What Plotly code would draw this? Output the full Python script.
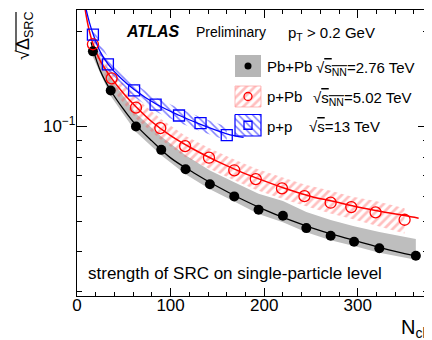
import plotly.graph_objects as go

# ---------------- data ----------------
# Pb+Pb sqrt(sNN)=2.76 TeV
pbpb_n = [17, 36, 63, 90, 116, 142, 168, 194, 220, 245, 271, 296, 323, 362]
pbpb_val = [0.173, 0.130, 0.100, 0.0843, 0.0732, 0.0656, 0.0600, 0.0544, 0.0521,
            0.0476, 0.0450, 0.0431, 0.0411, 0.0389]
pbpb_sys_hi = [0.185, 0.142, 0.110, 0.093, 0.081, 0.0725, 0.0665, 0.0612, 0.0580,
               0.0535, 0.0505, 0.0483, 0.0463, 0.0440]
pbpb_sys_lo = [0.166, 0.125, 0.096, 0.081, 0.0705, 0.0632, 0.0578, 0.0528, 0.0497,
               0.0462, 0.0436, 0.0418, 0.0398, 0.0378]
pbpb_fit_n = [15, 17, 25, 36, 50, 63, 80, 100, 125, 150, 175, 200, 225, 250, 275,
              300, 325, 350, 365]
pbpb_fit_val = [0.185, 0.176, 0.150, 0.130, 0.113, 0.101, 0.090, 0.0795, 0.0712,
                0.0645, 0.0590, 0.0545, 0.0508, 0.0478, 0.0453, 0.0432, 0.0412,
                0.0395, 0.0388]

# p+Pb sqrt(sNN)=5.02 TeV
ppb_n = [17, 37, 63, 89, 115.5, 141, 168, 191, 219, 243, 271, 293, 319, 350]
ppb_val = [0.1822, 0.1421, 0.1147, 0.0988, 0.0866, 0.0796, 0.0726, 0.0681, 0.0636,
           0.0601, 0.0573, 0.0555, 0.0534, 0.0506]
ppb_sys_hi = [0.192, 0.150, 0.123, 0.106, 0.0935, 0.0855, 0.0785, 0.0735, 0.0690,
              0.0655, 0.0625, 0.0600, 0.0580, 0.0550]
ppb_sys_lo = [0.170, 0.132, 0.106, 0.091, 0.080, 0.0735, 0.0675, 0.0630, 0.0590,
              0.0560, 0.0530, 0.0510, 0.0485, 0.0458]
ppb_fit_n = [8, 12, 17, 25, 37, 50, 63, 80, 100, 125, 150, 175, 200, 225, 250, 275,
             300, 325, 350, 365]
ppb_fit_val = [0.242, 0.208, 0.183, 0.161, 0.142, 0.127, 0.1155, 0.1035, 0.0935,
               0.0845, 0.0775, 0.0718, 0.0672, 0.0632, 0.0600, 0.0578, 0.0555,
               0.0537, 0.0522, 0.0512]

# p+p sqrt(s)=13 TeV
pp_n = [17, 33, 61, 84, 109, 132, 160]
pp_val = [0.1955, 0.1574, 0.1302, 0.1172, 0.1083, 0.1025, 0.0938]
pp_sys_hi = [0.206, 0.166, 0.137, 0.1235, 0.1142, 0.1070, 0.0998]
pp_sys_lo = [0.186, 0.150, 0.124, 0.1115, 0.1030, 0.0965, 0.0902]
pp_fit_n = [9, 13, 17, 25, 33, 45, 61, 84, 109, 132, 160, 178]
pp_fit_val = [0.240, 0.215, 0.197, 0.172, 0.158, 0.144, 0.131, 0.118, 0.1085,
              0.1015, 0.0948, 0.0923]

x_ticks = [0, 100, 200, 300]
y_ticks = [0.1]
y_tick_text = ["10<sup>\u22121</sup>"]
y_minor = [0.03, 0.04, 0.05, 0.06, 0.07, 0.08, 0.09, 0.2]

FONT = "Liberation Sans, Arial, Helvetica, sans-serif"
GRAY = "rgb(190,190,190)"
RED = "rgb(255,0,0)"
RED_HATCH = "rgba(255,85,85,0.75)"
BLUE = "rgb(0,0,255)"

# page body has an 8px margin: the figure is drawn 8px in from the window edge
PAGE_OFF = 8
W, H = 432 - PAGE_OFF, 340 - PAGE_OFF
# plot frame in window pixels: x 77..428, y 10..296
ML, MR, MT, MB = 77 - PAGE_OFF, 4, 10 - PAGE_OFF, 44
PX0, PX1, PY0, PY1 = 77, 428, 10, 296

fig = go.Figure()


def band(n, hi, lo):
    return list(n) + list(n)[::-1], list(hi) + list(lo)[::-1]


# bands
bx, by = band(pbpb_n, pbpb_sys_hi, pbpb_sys_lo)
fig.add_trace(go.Scatter(x=bx, y=by, fill="toself", fillcolor=GRAY, mode="none",
                         showlegend=False, hoverinfo="skip"))
bx, by = band(ppb_n, ppb_sys_hi, ppb_sys_lo)
fig.add_trace(go.Scatter(x=bx, y=by, fill="toself", fillcolor="rgba(0,0,0,0)",
                         fillpattern=dict(shape="/", fgcolor=RED_HATCH, bgcolor="rgba(0,0,0,0)",
                                          size=6, solidity=0.45),
                         mode="none", showlegend=False, hoverinfo="skip"))
bx, by = band(pp_n, pp_sys_hi, pp_sys_lo)
fig.add_trace(go.Scatter(x=bx, y=by, fill="toself", fillcolor="rgba(0,0,0,0)",
                         fillpattern=dict(shape="\\", fgcolor=BLUE, bgcolor="rgba(0,0,0,0)",
                                          size=5, solidity=0.3),
                         mode="none", showlegend=False, hoverinfo="skip"))

# fit lines
fig.add_trace(go.Scatter(x=pbpb_fit_n, y=pbpb_fit_val, mode="lines", line_shape="spline",
                         line=dict(color="black", width=1.3), showlegend=False))
fig.add_trace(go.Scatter(x=ppb_fit_n, y=ppb_fit_val, mode="lines", line_shape="spline",
                         line=dict(color=RED, width=1.5), showlegend=False))
fig.add_trace(go.Scatter(x=pp_fit_n, y=pp_fit_val, mode="lines", line_shape="spline",
                         line=dict(color=BLUE, width=1.3), showlegend=False))

# points
fig.add_trace(go.Scatter(x=pbpb_n, y=pbpb_val, mode="markers",
                         marker=dict(symbol="circle", size=10, color="black"),
                         showlegend=False))
fig.add_trace(go.Scatter(x=ppb_n, y=ppb_val, mode="markers",
                         marker=dict(symbol="circle-open", size=11, color=RED,
                                     line=dict(width=1.3, color=RED)),
                         showlegend=False))
fig.add_trace(go.Scatter(x=pp_n, y=pp_val, mode="markers",
                         marker=dict(symbol="square-open", size=11, color=BLUE,
                                     line=dict(width=1.3, color=BLUE)),
                         showlegend=False))

# ---------------- legend glyphs on a pixel-like overlay axis ----------------
LX0, LX1 = 235, 261
legend_rows = [(55, 77), (86, 107), (114.5, 136)]
(r1a, r1b), (r2a, r2b), (r3a, r3b) = legend_rows
lcx = (LX0 + LX1) / 2

fig.add_trace(go.Scatter(x=[LX0, LX1, LX1, LX0, LX0], y=[r1a, r1a, r1b, r1b, r1a],
                         xaxis="x2", yaxis="y2", fill="toself", fillcolor="rgb(182,182,182)",
                         mode="none", showlegend=False, hoverinfo="skip"))
fig.add_trace(go.Scatter(x=[lcx], y=[(r1a + r1b) / 2], xaxis="x2", yaxis="y2", mode="markers",
                         marker=dict(symbol="circle", size=7, color="black"),
                         showlegend=False, hoverinfo="skip"))
fig.add_trace(go.Scatter(x=[LX0, LX1, LX1, LX0, LX0], y=[r2a, r2a, r2b, r2b, r2a],
                         xaxis="x2", yaxis="y2", fill="toself", fillcolor="rgba(0,0,0,0)",
                         fillpattern=dict(shape="/", fgcolor=RED_HATCH, bgcolor="rgba(0,0,0,0)",
                                          size=6, solidity=0.45),
                         mode="lines", line=dict(color="rgba(255,150,150,0.8)", width=0.8),
                         showlegend=False, hoverinfo="skip"))
fig.add_trace(go.Scatter(x=[lcx], y=[(r2a + r2b) / 2], xaxis="x2", yaxis="y2", mode="markers",
                         marker=dict(symbol="circle-open", size=8, color=RED,
                                     line=dict(width=1.3, color=RED)),
                         showlegend=False, hoverinfo="skip"))
fig.add_trace(go.Scatter(x=[LX0, LX1, LX1, LX0, LX0], y=[r3a, r3a, r3b, r3b, r3a],
                         xaxis="x2", yaxis="y2", fill="toself", fillcolor="rgba(0,0,0,0)",
                         fillpattern=dict(shape="\\", fgcolor=BLUE, bgcolor="rgba(0,0,0,0)",
                                          size=5, solidity=0.3),
                         mode="lines", line=dict(color=BLUE, width=1.2),
                         showlegend=False, hoverinfo="skip"))
fig.add_trace(go.Scatter(x=[lcx], y=[(r3a + r3b) / 2], xaxis="x2", yaxis="y2", mode="markers",
                         marker=dict(symbol="square-open", size=8, color=BLUE,
                                     line=dict(width=1.3, color=BLUE)),
                         showlegend=False, hoverinfo="skip"))

OL = "<span style='text-decoration:overline'>"


def px_x(x):
    return (x - PX0) / (PX1 - PX0)


def px_y(y):
    return (PY1 - y) / (PY1 - PY0)


def ann(x, y, text, size, xanchor="left", **kw):
    """Annotation placed in window pixels (via paper coordinates of the frame)."""
    return dict(x=px_x(x), y=px_y(y), xref="paper", yref="paper", text=text,
                showarrow=False, xanchor=xanchor, yanchor="middle",
                font=dict(family=FONT, size=size, color="black"), **kw)


annotations = [
    ann(124, 31, "<b><i>ATLAS</i></b>", 16),
    ann(194, 32, "Preliminary", 14),
    ann(286, 33, "p<sub>T</sub> > 0.2 GeV", 15),
    ann(265, 66, "Pb+Pb", 15),
    ann(314, 68, "\u221a" + OL + "s<sub>NN</sub></span>=2.76 TeV", 15),
    ann(265, 96.5, "p+Pb", 15),
    ann(311, 98.5, "\u221a" + OL + "s<sub>NN</sub></span>=5.02 TeV", 15),
    ann(265, 126, "p+p", 15),
    ann(307, 126, "\u221a" + OL + "s</span>=13 TeV", 15),
    ann(86, 273, "strength of SRC on single-particle level", 17),
    ann(432, 328, "N<sub>ch</sub>", 20, xanchor="right"),
    dict(x=px_x(24), y=px_y(36), xref="paper", yref="paper",
         text="\u221a\u0394<sub>SRC</sub>", showarrow=False, textangle=-90,
         xanchor="center", yanchor="middle",
         font=dict(family=FONT, size=18, color="black")),
]

# overline of the square root in the (rotated) y-axis title
shapes = [dict(type="line", xref="paper", yref="paper",
               x0=px_x(16), x1=px_x(16), y0=px_y(12), y1=px_y(51),
               line=dict(color="black", width=1.2))]

fig.update_layout(
    width=W, height=H,
    margin=dict(l=ML, r=MR, t=MT, b=MB, pad=0),
    paper_bgcolor="white", plot_bgcolor="white",
    font=dict(family=FONT, size=17, color="black"),
    showlegend=False,
    annotations=annotations,
    shapes=shapes,
    xaxis=dict(range=[0, 375], tickvals=x_ticks, ticks="inside", ticklen=8, tickwidth=1,
               tickcolor="black", showline=True, linecolor="black", linewidth=1.3,
               mirror="ticks", showgrid=False, zeroline=False, ticklabelstandoff=-7,
               tickfont=dict(family=FONT, size=17),
               minor=dict(dtick=20, tick0=0, ticks="inside", ticklen=4, tickwidth=1,
                          tickcolor="black", showgrid=False)),
    yaxis=dict(type="log", range=[-1.5376, -0.6308], tickvals=y_ticks, ticktext=y_tick_text,
               ticks="inside", ticklen=10, tickwidth=1, tickcolor="black",
               showline=True, linecolor="black", linewidth=1.3, mirror="ticks",
               showgrid=False, zeroline=False, ticklabelstandoff=-3,
               tickfont=dict(family=FONT, size=17),
               minor=dict(tickmode="array", tickvals=y_minor, ticks="inside", ticklen=5,
                          tickwidth=1, tickcolor="black", showgrid=False)),
    xaxis2=dict(overlaying="x", anchor="y2", range=[PX0, PX1], visible=False),
    yaxis2=dict(overlaying="y", anchor="x2", range=[PY1, PY0], visible=False),
)

fig.write_html("out.html")
